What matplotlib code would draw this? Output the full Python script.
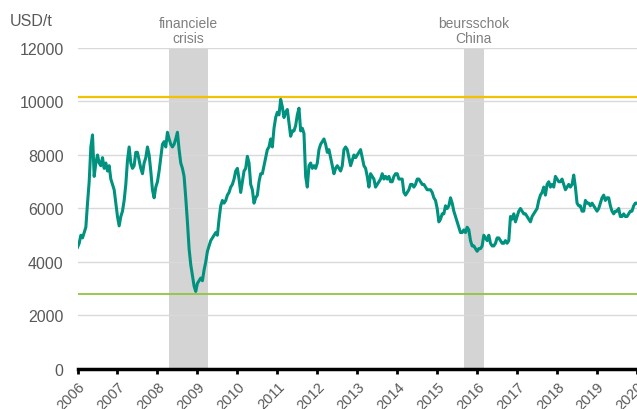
import numpy as np
import matplotlib
matplotlib.use("Agg")
import matplotlib.pyplot as plt

plt.rcParams['font.family'] = ['Liberation Sans', 'DejaVu Sans']

# copper price, USD/t, two readings per month (first / second half)
p2006 = [4550, 4700, 5000, 4900, 5100, 5300, 6200, 7000, 8300, 8750, 7200, 7700,
         8000, 7700, 7600, 7900, 7500, 7700, 7400, 7600, 7100, 6900, 6700, 6200]
p2007 = [5700, 5350, 5700, 5900, 6300, 6900, 7800, 8300, 7700, 7500, 7600, 8100,
         8100, 7800, 7500, 7300, 7700, 7900, 8300, 8000, 7400, 6700, 6400, 6800]
p2008 = [7000, 7400, 7900, 8400, 8500, 8300, 8850, 8600, 8400, 8300, 8400, 8600,
         8850, 8200, 7700, 7500, 7200, 6400, 5500, 4500, 3900, 3500, 3100, 2900]
p2009 = [3200, 3300, 3400, 3300, 3700, 4000, 4400, 4600, 4800, 4900, 5000, 5100,
         5000, 5600, 6100, 6300, 6200, 6300, 6500, 6600, 6800, 6900, 7100, 7400]
p2010 = [7500, 7100, 6600, 7000, 7400, 7500, 7950, 7700, 6900, 6700, 6200, 6400,
         6500, 7000, 7300, 7300, 7600, 7900, 8200, 8300, 8600, 8300, 9000, 9400]
p2011 = [9600, 9500, 10080, 9800, 9400, 9600, 9700, 9200, 8700, 8900, 8900, 9100,
         9500, 9750, 8900, 9000, 8800, 7200, 6800, 7600, 7700, 7500, 7600, 7500]
p2012 = [7700, 8200, 8400, 8500, 8600, 8400, 8100, 8200, 7900, 7600, 7300, 7500,
         7600, 7500, 7400, 7600, 8200, 8300, 8200, 7900, 7600, 7800, 8000, 7900]
p2013 = [8000, 8100, 8200, 7900, 7600, 7500, 7200, 6800, 7300, 7200, 7100, 6800,
         6900, 7000, 7100, 7300, 7100, 7200, 7100, 7200, 7000, 7000, 7200, 7300]
p2014 = [7300, 7100, 7100, 7100, 6600, 6500, 6600, 6700, 6900, 6900, 6800, 6900,
         7100, 7100, 7000, 6900, 6900, 6800, 6700, 6700, 6700, 6600, 6400, 6300]
p2015 = [6000, 5500, 5600, 5800, 5800, 6100, 6000, 6100, 6400, 6200, 5900, 5700,
         5500, 5300, 5100, 5100, 5200, 5100, 5300, 5200, 4800, 4600, 4600, 4500]
p2016 = [4400, 4500, 4500, 4600, 5000, 4900, 4800, 5000, 4700, 4600, 4600, 4700,
         4900, 4900, 4800, 4700, 4700, 4800, 4700, 4800, 5700, 5600, 5800, 5500]
p2017 = [5700, 5900, 6000, 5900, 5800, 5800, 5700, 5600, 5500, 5700, 5800, 5900,
         6000, 6300, 6500, 6600, 6800, 6500, 6900, 7000, 6800, 6900, 6800, 7200]
p2018 = [7100, 7000, 7000, 7100, 6900, 6700, 6800, 6900, 6800, 6900, 7250, 6800,
         6200, 6100, 6100, 5900, 5900, 6300, 6200, 6200, 6100, 6200, 6100, 6000]
p2019 = [5900, 6000, 6200, 6400, 6500, 6300, 6400, 6400, 6100, 5900, 5800, 5900,
         5900, 6000, 5700, 5700, 5800, 5700, 5700, 5800, 5900, 5900, 6100, 6200]
p2020 = [6200]

years = list(range(2006, 2021))
ceiling_level = 10170
floor_level = 2800
crises = [(2008.29, 2009.26, 'financiele\ncrisis'),
          (2015.66, 2016.16, 'beursschok\nChina')]

prices = np.array(p2006 + p2007 + p2008 + p2009 + p2010 + p2011 + p2012
                  + p2013 + p2014 + p2015 + p2016 + p2017 + p2018 + p2019 + p2020)
t = 2006 + np.arange(len(prices)) / 24.0

fig = plt.figure(figsize=(6.37, 4.10), dpi=100)
ax = fig.add_axes([0.1217, 0.0976, 0.8783, 0.7829])

grey_txt = '#595959'
for y in range(2000, 12001, 2000):
    ax.axhline(y, color='#d9d9d9', lw=1.0, zorder=1)

for x0, x1, label in crises:
    ax.axvspan(x0, x1, ymin=0, ymax=1, color='#d4d4d4', lw=0, zorder=0.5)
    ax.text((x0 + x1) / 2, 12120, label, ha='center', va='bottom',
            fontsize=10, color='#7f7f7f', linespacing=1.1)

ax.axhline(ceiling_level, color='#f2c100', lw=1.6, zorder=2)
ax.axhline(floor_level, color='#8dc63f', lw=1.3, zorder=2)

ax.plot(t, prices, color='#00927f', lw=2.2, zorder=3)

ax.set_xlim(2006, 2020)
ax.set_ylim(0, 12000)
ax.set_yticks(range(0, 12001, 2000))
ax.set_xticks(years)
ax.set_xticklabels([str(y) for y in years], rotation=45, ha='right',
                   rotation_mode='anchor', fontsize=10.5, color=grey_txt)
ax.tick_params(axis='y', length=0, labelsize=11.5, labelcolor=grey_txt, pad=10)
ax.tick_params(axis='x', length=3.5, width=2, color='black', direction='out', pad=4)

for s in ['top', 'right', 'left']:
    ax.spines[s].set_visible(False)
ax.spines['bottom'].set_linewidth(2.5)
ax.spines['bottom'].set_color('black')
ax.spines['bottom'].set_zorder(4)

fig.text(0.016, 0.948, 'USD/t', fontsize=11.5, color=grey_txt, va='center', ha='left')

fig.savefig('out.png', dpi=100)
